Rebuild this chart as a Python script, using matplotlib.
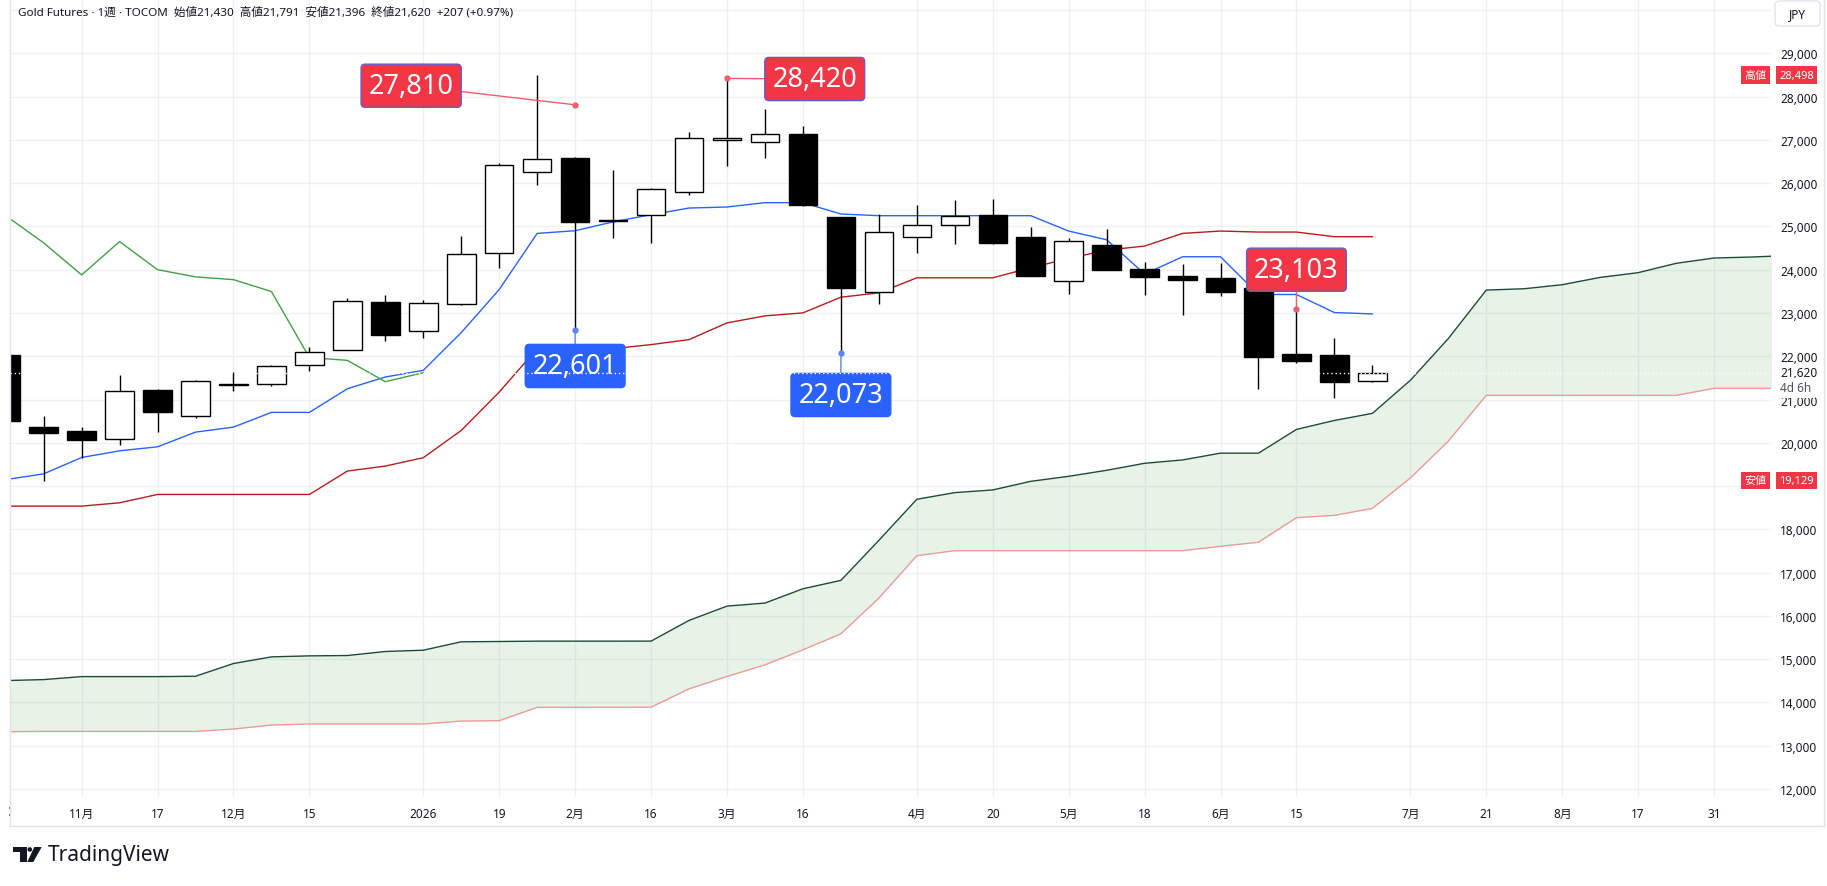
import numpy as np
import pandas as pd
import matplotlib
matplotlib.use('Agg')
import matplotlib.pyplot as plt
from matplotlib.patches import Rectangle, Polygon, Circle, FancyBboxPatch
from matplotlib.lines import Line2D
from matplotlib.transforms import IdentityTransform, offset_copy

plt.rcParams['font.family'] = ['Noto Sans', 'Noto Sans CJK JP', 'DejaVu Sans']

W, H = 1827, 887
TXT = '#131722'

# weekly bars, first bar = week of 2025-10-20
weeks = pd.date_range('2025-10-20', periods=48, freq='W-MON')

opens = [22022, 20363, 20270, 20093, 21220, 20618, 21340, 21359, 21798, 22146,
         23257, 22586, 23203, 24391, 26267, 26575, 25130, 25271, 25796, 26992,
         26953, 27131, 25209, 23488, 24754, 25032, 25256, 24746, 23743, 24561,
         24013, 23843, 23797, 23566, 22061, 22038, 21430]
highs = [22100, 20618, 20363, 21575, 21250, 21440, 21636, 21790, 22215, 23350,
         23427, 23311, 24769, 26475, 28498, 26614, 26297, 25880, 27177, 28420,
         27710, 27316, 25220, 25287, 25487, 25603, 25626, 24978, 24723, 24931,
         24168, 24121, 24144, 23627, 23103, 22424, 21791]
lows = [20400, 19129, 19646, 19939, 20258, 20571, 21196, 21305, 21652, 22140,
        22346, 22416, 23180, 24029, 25958, 22601, 24723, 24615, 25726, 26398,
        26575, 25480, 22073, 23218, 24376, 24584, 24584, 23860, 23450, 23985,
        23411, 22964, 23396, 21235, 21852, 21027, 21396]
closes = [20494, 20224, 20054, 21196, 20710, 21428, 21370, 21775, 22099, 23280,
          22493, 23234, 24368, 26429, 26568, 25101, 25160, 25873, 27038, 27054,
          27146, 25495, 23573, 24878, 25040, 25248, 24607, 23866, 24654, 23990,
          23828, 23759, 23481, 21976, 21883, 21413, 21620]

# ichimoku lines
tenkan = [19150, 19283, 19661, 19815, 19908, 20247, 20363, 20703, 20703, 21250,
          21521, 21675, 22547, 23543, 24839, 24901, 25105, 25271, 25425, 25449,
          25549, 25549, 25287, 25248, 25248, 25248, 25248, 25248, 24893, 24692,
          23900, 24299, 24299, 23427, 23427, 23010, 22979]
kijun = [18537, 18537, 18537, 18614, 18807, 18807, 18807, 18807, 18807, 19347,
         19463, 19656, 20286, 21173, 22177, 22177, 22177, 22269, 22385, 22771,
         22933, 23002, 23365, 23465, 23813, 23813, 23813, 24044, 24260, 24453,
         24546, 24839, 24893, 24870, 24870, 24762, 24762]
chikou = [25248, 24620, 23880, 24650, 24000, 23835, 23770, 23495, 21970, 21905,
          21413, 21620]
span_a = [14506, 14529, 14598, 14598, 14598, 14606, 14900, 15054, 15077, 15085,
          15178, 15208, 15402, 15409, 15417, 15417, 15417, 15418, 15896, 16227,
          16297, 16628, 16821, 17746, 18695, 18849, 18911, 19110, 19226, 19365,
          19527, 19604, 19761, 19761, 20309, 20517, 20680, 21444, 22409, 23529,
          23560, 23653, 23822, 23931, 24147, 24270, 24293, 24330]
span_b = [13324, 13332, 13332, 13332, 13332, 13332, 13386, 13479, 13502, 13502,
          13502, 13502, 13571, 13579, 13888, 13888, 13888, 13891, 14315, 14601,
          14870, 15217, 15587, 16412, 17392, 17507, 17507, 17507, 17507, 17507,
          17507, 17507, 17608, 17704, 18270, 18324, 18485, 19187, 20039, 21097,
          21097, 21097, 21097, 21097, 21097, 21259, 21259, 21259]

tick_dates = ['2025-11-03', '2025-11-17', '2025-12-01', '2025-12-15', '2026-01-05',
              '2026-01-19', '2026-02-02', '2026-02-16', '2026-03-02', '2026-03-16',
              '2026-04-06', '2026-04-20', '2026-05-04', '2026-05-18', '2026-06-01',
              '2026-06-15', '2026-07-06', '2026-07-20', '2026-08-03', '2026-08-17',
              '2026-08-31']
tick_labels = ['11月', '17', '12月', '15', '2026', '19', '2月', '16', '3月', '16',
               '4月', '20', '5月', '18', '6月', '15', '7月', '21', '8月', '17', '31']

# pivot labels: (anchor week, anchor value, label week, label level, kind)
pivot_week = ['2026-02-02', '2026-03-02', '2026-02-02', '2026-03-23', '2026-06-15']
pivot_value = [27810, 28420, 22601, 22073, 23103]
pivot_label_x = [10.68, 21.31, 15.0, 22.0, 34.0]
pivot_label_y = [28251, 28406, 21775, 21105, 24000]
pivot_kind = ['high', 'high', 'low', 'low', 'high']

fig = plt.figure(figsize=(W / 100, H / 100), dpi=100)
ax = fig.add_axes([10 / W, 89 / H, 1761 / W, 798 / H])
ax.set_xlim(0.113, 46.5)
ax.set_ylim(11816, 30255)
for s in ax.spines.values():
    s.set_visible(False)
ax.set_axisbelow(True)

x = np.arange(len(opens))
xs = np.arange(len(span_a))
o = np.array(opens); c = np.array(closes)

# cloud
ax.fill_between(xs, span_a, span_b, color='#43A047', alpha=0.12, lw=0, zorder=1)
ax.plot(xs, span_a, color='#1F4A38', lw=1, zorder=2)
ax.plot(xs, span_b, color='#EF9A9A', lw=1, zorder=2)

ax.plot(x, tenkan, color='#2962FF', lw=1, zorder=2)
ax.plot(x, kijun, color='#B71C1C', lw=1, zorder=2)
ax.plot(np.arange(len(chikou)), chikou, color='#43A047', lw=1, zorder=2)

# candles
up = c >= o
ax.vlines(x, lows, highs, color='black', lw=1, zorder=3)
ax.bar(x, np.maximum(np.abs(c - o), 15), bottom=np.minimum(o, c), width=0.75,
       color=np.where(up, 'white', 'black'), edgecolor='black', lw=1, zorder=4)

# pivot labels
for wk, v, lx, ly, kind in zip(pivot_week, pivot_value, pivot_label_x,
                               pivot_label_y, pivot_kind):
    xi = weeks.get_loc(pd.Timestamp(wk))
    fc = '#F23645' if kind == 'high' else '#2962FF'
    ec = '#6A5BC8' if kind == 'high' else '#2962FF'
    lc = '#E8606B' if kind == 'high' else '#5B86F0'
    ax.annotate(f'{v:,}', xy=(xi, v), xytext=(lx, ly), textcoords='data',
                ha='center', va='center', fontsize=19.5, color='white',
                bbox=dict(boxstyle='round,pad=0.28,rounding_size=0.15',
                          fc=fc, ec=ec, lw=1),
                arrowprops=dict(arrowstyle='-', color=lc, lw=1,
                                shrinkA=0, shrinkB=0),
                zorder=6)
    ax.plot(xi, v, 'o', ms=3.5, color=lc, zorder=6)

# current price dotted line
ax.axhline(closes[-1], color='white', lw=1, ls=(0, (1, 2)), zorder=7)

# grid + ticks (19,000 sits under the low marker)
yt = np.arange(12000, 30001, 1000)
ax.set_yticks(yt)
ax.set_yticklabels([f'{v:,}' if v not in (19000, 30000) else '' for v in yt])
ax.yaxis.tick_right()
for v, lab in zip(yt, ax.get_yticklabels()):
    if v in (15000, 20000, 25000):
        lab.set_fontweight('bold')
tpos = weeks.get_indexer(pd.to_datetime(tick_dates))
ax.set_xticks(tpos)
ax.set_xticklabels(tick_labels)
for lab in ax.get_xticklabels():
    if lab.get_text() == '2026':
        lab.set_fontweight('bold')
ax.tick_params(axis='both', length=0, labelsize=8.5, labelcolor=TXT)
ax.tick_params(axis='y', pad=6.5)
ax.tick_params(axis='x', pad=7)
ax.grid(True, color='#EEF0F4', lw=1)

# high / low markers on the price scale
ytr = ax.get_yaxis_transform()
for word, v in [('高値', max(highs)), ('安値', min(lows))]:
    ax.text(0.9910, v, word, transform=ytr, ha='center', va='center',
            fontsize=8, color='white', clip_on=False, zorder=8,
            bbox=dict(boxstyle='square,pad=0.3', fc='#F23645', ec='none'))
    ax.text(1.0145, v, f'{v:,}', transform=ytr, ha='center', va='center',
            fontsize=8, color='white', fontweight='bold', clip_on=False, zorder=8,
            bbox=dict(boxstyle='square,pad=0.3', fc='#F23645', ec='none'))

ax.text(1.0051, closes[-1], f'{closes[-1]:,}', transform=ytr, ha='left',
        va='center', fontsize=8.5, color=TXT, fontweight='bold', clip_on=False,
        zorder=8)
ax.text(1.0051, closes[-1], '4d 6h',
        transform=offset_copy(ytr, fig=fig, y=-15, units='dots'), ha='left',
        va='center', fontsize=8.5, color='#50535E', clip_on=False, zorder=8,
        bbox=dict(boxstyle='square,pad=0.3', fc='white', ec='none'))

# header
chg = closes[-1] - closes[-2]
title = (f'Gold Futures · 1週 · TOCOM  始値{opens[-1]:,}  高値{highs[-1]:,}  '
         f'安値{lows[-1]:,}  終値{closes[-1]:,}  +{chg} (+{chg / closes[-2] * 100:.2f}%)')
fig.text(18 / W, 1 - 13 / H, title, fontsize=8.4, color=TXT, va='center')

# clipped first date label
fig.text(5.7 / W, 1 - 813 / H, '20', fontsize=8.5, color=TXT, ha='center', va='center')
idt = IdentityTransform()
fig.add_artist(Rectangle((0, H - 826), 8.5, 28, transform=idt, fc='white',
                         ec='none', zorder=5))

# pane border
for seg in [((9.5, 9.5), (0, 827)), ((9.5, 1824), (827, 827)), ((1824, 1824), (0, 827))]:
    fig.add_artist(Line2D(seg[0], [H - y for y in seg[1]], transform=idt,
                          color='#E0E3EB', lw=1, zorder=6))

# JPY box
fig.add_artist(FancyBboxPatch((1775, H - 27), 45, 25,
                              boxstyle='round,pad=0,rounding_size=4',
                              transform=idt, fc='white', ec='#E0E3EB', lw=1,
                              zorder=6))
fig.text(1797.5 / W, 1 - 14.5 / H, 'JPY', fontsize=8.5, color=TXT, ha='center',
         va='center', zorder=7)

# TradingView logo
fig.add_artist(Polygon([(12.7, H - 848), (26.7, H - 848), (26.7, H - 863),
                        (20, H - 863), (20, H - 852.7), (12.7, H - 852.7)],
                       closed=True, transform=idt, fc=TXT, ec='none'))
fig.add_artist(Circle((29.8, H - 850.5), 2.3, transform=idt, fc=TXT, ec='none'))
fig.add_artist(Polygon([(34.3, H - 848), (41.7, H - 848), (33.3, H - 863),
                        (27.3, H - 863)], closed=True, transform=idt, fc=TXT,
                       ec='none'))
fig.text(48 / W, 1 - 855.5 / H, 'TradingView', fontsize=15, fontweight='bold',
         color=TXT, va='center')

fig.savefig('out.png', dpi=100, facecolor='white')
